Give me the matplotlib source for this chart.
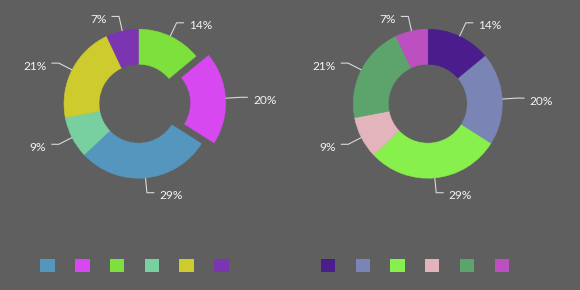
import numpy as np
import matplotlib.pyplot as plt
from matplotlib.patches import Patch

# slice values (clockwise from 12 o'clock) and their labels
values = [14, 20, 29, 9, 21, 7]
labels = ['14%', '20%', '29%', '9%', '21%', '7%']

# colours in slice order
left_colors = ['#7de03c', '#d848f0', '#5596bf', '#78d0a0', '#cdcb2e', '#7c35b0']
right_colors = ['#4a1c8c', '#7a85b5', '#88f04c', '#e4b4bc', '#5ca46c', '#bc50c0']

# legend order (indices into the slice lists)
left_legend_order = [2, 1, 0, 3, 4, 5]
right_legend_order = [0, 1, 2, 3, 4, 5]

bg = '#5f5f5f'
plt.rcParams['font.family'] = ['Lato', 'DejaVu Sans']

fig = plt.figure(figsize=(5.8, 2.9), dpi=100, facecolor=bg)

scale = 74.5          # pixels per unit radius
half_w, half_h = 1.8, 1.3


def make_axes(cx, cy):
    # cx, cy: centre of the donut in pixels (from bottom-left)
    w = 2 * half_w * scale
    h = 2 * half_h * scale
    ax = fig.add_axes([(cx - w / 2) / 580, (cy - h / 2) / 290, w / 580, h / 290])
    ax.set_facecolor(bg)
    return ax


def donut(ax, colors, explode):
    wedges, _ = ax.pie(values, colors=colors, explode=explode, startangle=90,
                       counterclock=False, radius=1,
                       wedgeprops=dict(width=0.47, linewidth=0.4))
    for w in wedges:
        w.set_edgecolor(w.get_facecolor())
    for w, lab, ex in zip(wedges, labels, explode):
        ang = np.deg2rad((w.theta1 + w.theta2) / 2)
        ux, uy = np.cos(ang), np.sin(ang)
        ox, oy = ex * ux, ex * uy
        x0, y0 = ox + ux, oy + uy
        x1, y1 = ox + 1.2 * ux, oy + 1.2 * uy
        s = 1 if ux >= 0 else -1
        x2 = x1 + s * 0.1
        ax.plot([x0, x1, x2], [y0, y1, y1], color='#d9d9d9', lw=0.8,
                solid_capstyle='butt')
        ax.text(x2 + s * 0.07, y1 - 0.04, lab, ha='left' if s > 0 else 'right',
                va='center', color='#f4f4f4', fontsize=8.6)
    ax.set_xlim(-half_w, half_w)
    ax.set_ylim(-half_h, half_h)
    ax.axis('off')


ax1 = make_axes(138.5, 186.3)
donut(ax1, left_colors, [0, 0.17, 0, 0, 0, 0])

ax2 = make_axes(427.8, 186.3)
donut(ax2, right_colors, [0] * 6)


def legend(ax, colors, order, cx):
    handles = [Patch(facecolor=colors[i], edgecolor='none') for i in order]
    ax.legend(handles, [''] * len(handles), ncol=len(handles), loc='center',
              bbox_to_anchor=(cx / 580, 24 / 290), bbox_transform=fig.transFigure,
              frameon=False, fontsize=10.3, handlelength=1, handleheight=1,
              handletextpad=0, columnspacing=1.43, borderpad=0, borderaxespad=0)


legend(ax1, left_colors, left_legend_order, 134.5)
legend(ax2, right_colors, right_legend_order, 414.8)

fig.savefig('out.png', facecolor=bg)
